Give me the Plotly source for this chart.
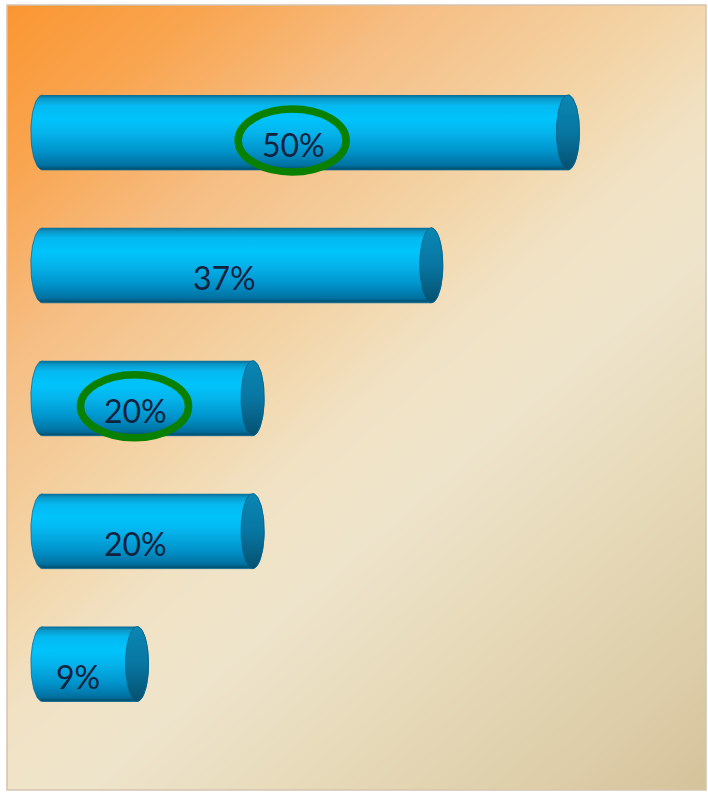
import numpy as np
import plotly.graph_objects as go

# values shown on the five cylinders, top to bottom
values = [50, 37, 20, 20, 9]
labels = [f"{v}%" for v in values]
highlighted = [True, False, True, False, False]

BAR_HALF = 0.282      # half height of a cylinder, in category units
CAP_RX = 1.1          # horizontal radius of the end caps, in value units
X_RANGE = [-3.37, 63.14]
Y_RANGE = [4.948, -0.959]

BODY_SCALE = [
    [0.0, "#004B68"], [0.06, "#0070A0"], [0.25, "#0094CC"], [0.5, "#05B4EC"],
    [0.68, "#00C4FC"], [0.86, "#05B8F0"], [0.95, "#0A98C8"], [1.0, "#0B6C94"],
]
CAP_SCALE = [[0.0, "#05506F"], [0.5, "#0876A2"], [1.0, "#0A86B3"]]
BG_SCALE = [
    [0.0, "#FB9632"], [0.12, "#F9A550"], [0.25, "#F6BE84"], [0.4, "#F3D4A6"],
    [0.5, "#F1E2C4"], [0.6, "#EEE4CB"], [0.75, "#E6D9B8"], [0.9, "#DDCDA8"],
    [1.0, "#D4C29A"],
]
TEXT_COLOR = "#10223E"
RING_COLOR = "#0A8000"

fig = go.Figure()

# diagonal background wash
fig.add_trace(go.Heatmap(
    x=X_RANGE, y=[Y_RANGE[1], Y_RANGE[0]],
    z=[[0, 0.42], [0.55, 1]],
    colorscale=BG_SCALE, zmin=0, zmax=1, zsmooth="best",
    showscale=False, hoverinfo="skip",
))

left_t = np.linspace(np.pi / 2, 3 * np.pi / 2, 40)
right_t = np.linspace(-np.pi / 2, np.pi / 2, 40)
full_t = np.linspace(0, 2 * np.pi, 80)

for i, v in enumerate(values):
    bx = np.concatenate([CAP_RX * np.cos(left_t), v + CAP_RX * np.cos(right_t)])
    by = np.concatenate([i - BAR_HALF * np.sin(left_t), i - BAR_HALF * np.sin(right_t)])
    fig.add_trace(go.Scatter(
        x=bx, y=by, mode="lines", fill="toself",
        line=dict(width=0.8, color="#0A6A94"),
        fillgradient=dict(type="vertical", colorscale=BODY_SCALE,
                          start=i + BAR_HALF, stop=i - BAR_HALF),
        hoverinfo="skip",
    ))
    fig.add_trace(go.Scatter(
        x=v + CAP_RX * np.cos(full_t), y=i - BAR_HALF * np.sin(full_t),
        mode="lines", fill="toself",
        line=dict(width=0.8, color="#06658C"),
        fillgradient=dict(type="vertical", colorscale=CAP_SCALE,
                          start=i + BAR_HALF, stop=i - BAR_HALF),
        hoverinfo="skip",
    ))
    fig.add_annotation(
        x=v / 2, y=i, text=labels[i], showarrow=False,
        xshift=-12, yshift=-12,
        font=dict(family="Lato, sans-serif", size=32, color=TEXT_COLOR),
    )
    if highlighted[i]:
        fig.add_shape(
            type="circle", xref="x", yref="y",
            xsizemode="pixel", ysizemode="pixel",
            xanchor=v / 2, yanchor=i,
            x0=-13 - 54, x1=-13 + 54, y0=-8 - 31.5, y1=-8 + 31.5,
            line=dict(color=RING_COLOR, width=7.5),
        )

# thin frame round the picture
fig.add_shape(type="rect", xref="paper", yref="paper", x0=0, x1=1, y0=0, y1=1,
              line=dict(color="#D6C3AE", width=1.5))

fig.update_xaxes(visible=False, range=X_RANGE, fixedrange=True)
fig.update_yaxes(visible=False, range=Y_RANGE, fixedrange=True)
fig.update_layout(
    width=708, height=793,
    margin=dict(l=7, r=2, t=5, b=3),
    paper_bgcolor="white", plot_bgcolor="rgba(0,0,0,0)",
    showlegend=False,
)

fig.write_html("out.html", config={"displayModeBar": False},
               post_script="document.body.style.margin='0';")
